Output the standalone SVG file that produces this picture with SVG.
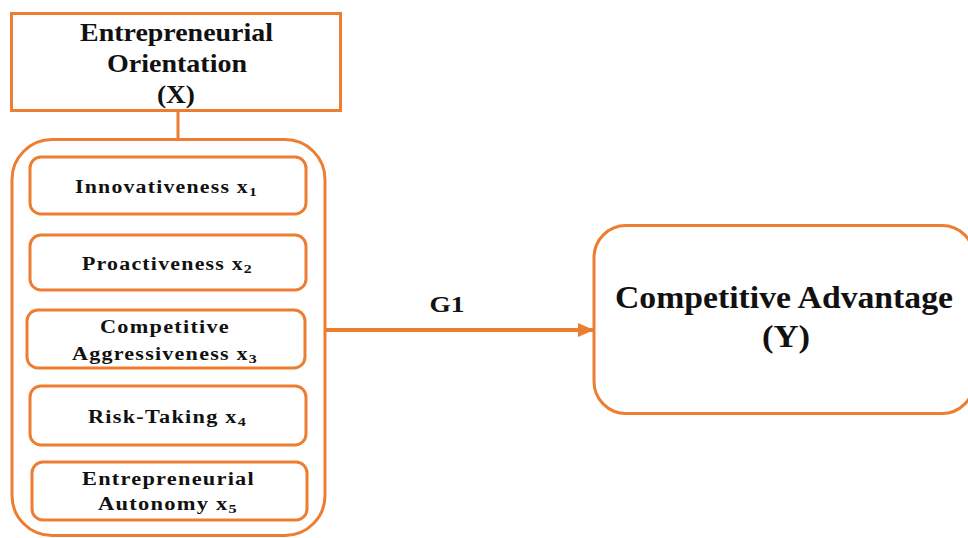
<svg xmlns="http://www.w3.org/2000/svg" width="968" height="538" viewBox="0 0 968 538">
<defs>
<style>
.box{fill:#fff;stroke:#ED7D31;stroke-width:3}
.t{font-family:"Liberation Serif","Times New Roman",serif;font-weight:bold;fill:#111;text-anchor:middle}
.s{font-size:18px;letter-spacing:1px}
.sub{font-size:13px}
.c{stroke:#ED7D31;fill:none}
</style>
<marker id="ah" markerWidth="16" markerHeight="14" refX="15" refY="7" orient="auto" markerUnits="userSpaceOnUse">
<path d="M0,0 L16,7 L0,14 z" fill="#ED7D31"/>
</marker>
</defs>
<rect width="968" height="538" fill="#fff"/>
<g id="connectors">
<line class="c" x1="178" y1="111" x2="178" y2="140" stroke-width="3"/>
<line class="c" x1="326" y1="330" x2="593" y2="330" stroke-width="4" marker-end="url(#ah)"/>
<text class="t" x="447" y="312" font-size="23" textLength="35" lengthAdjust="spacingAndGlyphs">G1</text>
</g>
<g id="eo">
<rect class="box" x="11.5" y="13.5" width="329" height="97"/>
<text class="t" x="176.5" y="41" font-size="25" textLength="193" lengthAdjust="spacingAndGlyphs">Entrepreneurial</text>
<text class="t" x="177" y="72" font-size="25" textLength="140" lengthAdjust="spacingAndGlyphs">Orientation</text>
<text class="t" x="176" y="103" font-size="25" textLength="38" lengthAdjust="spacingAndGlyphs">(X)</text>
</g>
<g id="dims">
<rect class="box" x="12" y="139.5" width="313" height="396" rx="40"/>
</g>
<g id="x1">
<rect class="box" x="30" y="157" width="276" height="57" rx="11"/>
<text class="t s" x="166.5" y="193" textLength="183" lengthAdjust="spacingAndGlyphs">Innovativeness x<tspan class="sub" dy="3">1</tspan></text>
</g>
<g id="x2">
<rect class="box" x="30" y="235" width="276" height="55" rx="11"/>
<text class="t s" x="167.5" y="270" textLength="171" lengthAdjust="spacingAndGlyphs">Proactiveness x<tspan class="sub" dy="3">2</tspan></text>
</g>
<g id="x3">
<rect class="box" x="27" y="310" width="278" height="58" rx="11"/>
<text class="t s" x="165" y="333" textLength="130" lengthAdjust="spacingAndGlyphs">Competitive</text>
<text class="t s" x="165" y="360" textLength="186" lengthAdjust="spacingAndGlyphs">Aggressiveness x<tspan class="sub" dy="3">3</tspan></text>
</g>
<g id="x4">
<rect class="box" x="30" y="386" width="276" height="59" rx="11"/>
<text class="t s" x="167.5" y="423" textLength="159" lengthAdjust="spacingAndGlyphs">Risk-Taking x<tspan class="sub" dy="3">4</tspan></text>
</g>
<g id="x5">
<rect class="box" x="32" y="462" width="275" height="58" rx="11"/>
<text class="t s" x="168.5" y="485" textLength="173" lengthAdjust="spacingAndGlyphs">Entrepreneurial</text>
<text class="t s" x="168" y="510" textLength="140" lengthAdjust="spacingAndGlyphs">Autonomy x<tspan class="sub" dy="3">5</tspan></text>
</g>
<g id="ca">
<rect class="box" x="594" y="225.5" width="380" height="188" rx="32"/>
<text class="t" x="784" y="308" font-size="31" textLength="338" lengthAdjust="spacingAndGlyphs">Competitive Advantage</text>
<text class="t" x="786" y="347" font-size="31" textLength="48" lengthAdjust="spacingAndGlyphs">(Y)</text>
</g>
</svg>
